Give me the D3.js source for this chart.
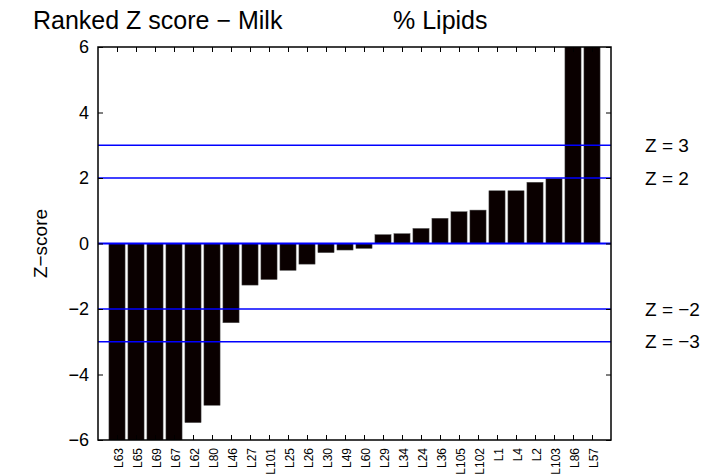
<!DOCTYPE html>
<html><head><meta charset="utf-8">
<script src="https://cdn.jsdelivr.net/npm/d3@7"></script>
<style>body{margin:0;background:#fff}svg{display:block;font-family:"Liberation Sans",Arial,sans-serif}</style>
</head><body><svg id="c" width="716" height="476"></svg>
<script>
const categories = ["L63","L65","L69","L67","L62","L80","L46","L27","L101","L25","L26","L30","L49","L60","L29","L34","L24","L36","L105","L102","L1","L4","L2","L103","L86","L57"];
const zScores = [-8,-8,-8,-8,-5.47,-4.94,-2.42,-1.27,-1.10,-0.82,-0.63,-0.28,-0.20,-0.15,0.27,0.30,0.46,0.77,0.97,1.02,1.61,1.61,1.87,1.98,8,8];
const yTicks = [-6,-4,-2,0,2,4,6];
const refLines = [3,2,0,-2,-3];
const refLabels = [{v:3,t:"Z = 3"},{v:2,t:"Z = 2"},{v:-2,t:"Z = \u22122"},{v:-3,t:"Z = \u22123"}];

const svg = d3.select("#c");
const L=98, R=611, T=47, B=440;
const x = d3.scaleLinear().domain([0, categories.length+1]).range([L,R]);
const y = d3.scaleLinear().domain([-6,6]).range([B,T]);
const bw = (x(1)-x(0))*0.85;

svg.append("rect").attr("x",0).attr("y",0).attr("width",716).attr("height",476).attr("fill","#fff");
svg.append("defs").append("clipPath").attr("id","clip").append("rect")
  .attr("x",L).attr("y",T).attr("width",R-L).attr("height",B-T);

const g = svg.append("g").attr("clip-path","url(#clip)");
g.selectAll("rect.bar").data(zScores).join("rect").attr("class","bar")
  .attr("x",(d,i)=>x(i+1)-bw/2).attr("width",bw)
  .attr("y",d=>y(Math.max(0,d))).attr("height",d=>Math.abs(y(d)-y(0)))
  .attr("fill","#0a0000").attr("stroke","#555").attr("stroke-width",0.5);

g.selectAll("line.ref").data(refLines).join("line").attr("class","ref")
  .attr("x1",L).attr("x2",R).attr("y1",d=>y(d)).attr("y2",d=>y(d))
  .attr("stroke","#0000ff").attr("stroke-width",d=>d===0?2:1.4);

const tl = 5;
const pos = d3.range(1, categories.length+1);
const axB = svg.append("g").attr("transform",`translate(0,${B})`)
  .call(d3.axisBottom(x).tickValues(pos).tickSize(-tl).tickFormat((d,i)=>categories[i]));
axB.select(".domain").remove();
axB.selectAll("text").attr("transform","rotate(-90)").attr("text-anchor","end")
  .attr("x",-8).attr("y",1).attr("dy","0.35em").style("font-size","12px").style("font-family","Liberation Sans, Arial, sans-serif");
const axT = svg.append("g").attr("transform",`translate(0,${T})`)
  .call(d3.axisTop(x).tickValues(pos).tickSize(-tl).tickFormat(""));
axT.select(".domain").remove();
const axL = svg.append("g").attr("transform",`translate(${L},0)`)
  .call(d3.axisLeft(y).tickValues(yTicks).tickSize(-tl).tickPadding(9).tickFormat(d=>d<0?"\u2212"+Math.abs(d):d));
axL.select(".domain").remove();
axL.selectAll("text").style("font-size","18px").style("font-family","Liberation Sans, Arial, sans-serif");
const axR = svg.append("g").attr("transform",`translate(${R},0)`)
  .call(d3.axisRight(y).tickValues(yTicks).tickSize(-tl).tickFormat(""));
axR.select(".domain").remove();
svg.selectAll(".tick line").attr("stroke","#000").attr("stroke-width",1);
svg.append("rect").attr("x",L).attr("y",T).attr("width",R-L).attr("height",B-T)
  .attr("fill","none").attr("stroke","#000").attr("stroke-width",1.5);

svg.selectAll("text.zl").data(refLabels).join("text").attr("class","zl")
  .attr("x",645).attr("y",d=>y(d.v)).attr("dy","0.35em").style("font-size","19px").text(d=>d.t);

svg.append("text").attr("transform",`translate(47,${(T+B)/2}) rotate(-90)`).attr("text-anchor","middle")
  .style("font-size","19px").text("Z\u2212score");
svg.append("text").attr("x",33).attr("y",29).style("font-size","25px").text("Ranked Z score \u2212 Milk");
svg.append("text").attr("x",393).attr("y",29).style("font-size","25px").text("% Lipids");
</script></body></html>
